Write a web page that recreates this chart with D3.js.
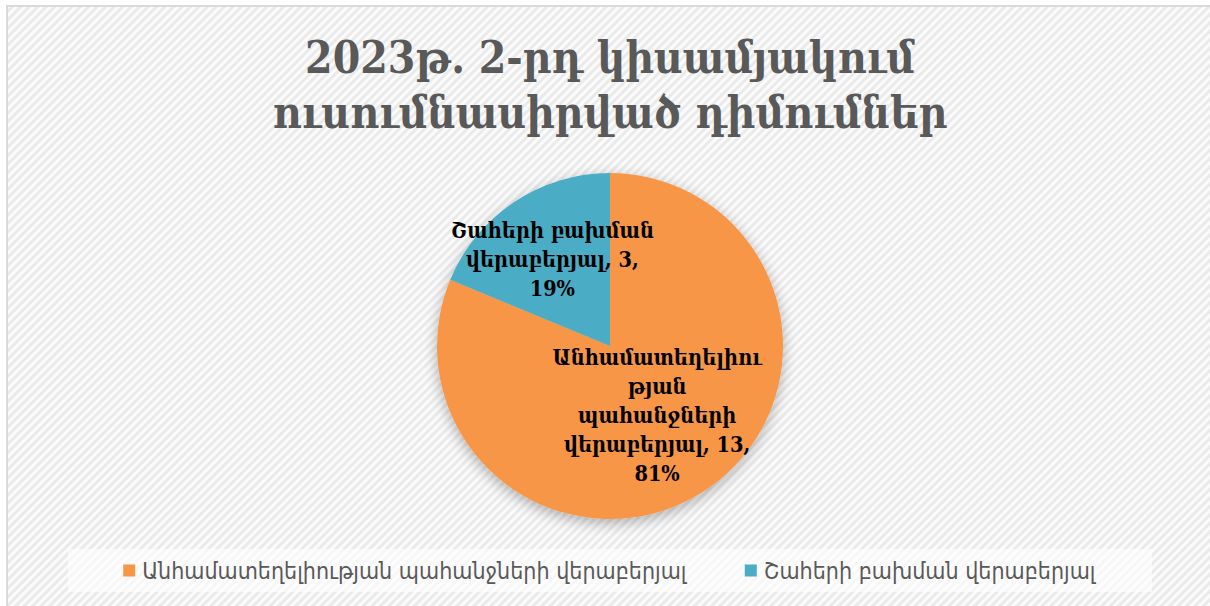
<!DOCTYPE html>
<html>
<head>
<meta charset="utf-8">
<script src="https://cdn.jsdelivr.net/npm/d3@7"></script>
<style>
  html, body { margin: 0; padding: 0; background: #fff; }
  svg { display: block; }
</style>
</head>
<body>
<div id="container"></div>
<script>
const categories = [
  'Անհամատեղելիության պահանջների վերաբերյալ',
  'Շահերի բախման վերաբերյալ'
];
const values = [13, 3];
const percents = ['81%', '19%'];
// how Excel wrapped the data labels
const labelLines = [
  ['Անհամատեղելիու', 'թյան', 'պահանջների', 'վերաբերյալ, 13,', '81%'],
  ['Շահերի բախման', 'վերաբերյալ, 3,', '19%']
];
const titleLines = ['2023թ. 2-րդ կիսամյակում', 'ուսումնասիրված դիմումներ'];
const colors = ['#F79646', '#4BACC6'];

const width = 1210;
const height = 606;

const svg = d3.select('#container').append('svg')
  .attr('width', width)
  .attr('height', height)
  .attr('viewBox', [0, 0, width, height]);

const defs = svg.append('defs');

// diagonal hatch of the chart area
const pattern = defs.append('pattern')
  .attr('id', 'hatch')
  .attr('patternUnits', 'userSpaceOnUse')
  .attr('width', 6)
  .attr('height', 6)
  .attr('patternTransform', 'rotate(-45)');
pattern.append('rect')
  .attr('width', 6).attr('height', 6)
  .attr('fill', '#fbfbfb');
pattern.append('rect')
  .attr('width', 6).attr('height', 3)
  .attr('fill', '#eaeaea');

const shadow = defs.append('filter')
  .attr('id', 'shadow')
  .attr('x', '-20%').attr('y', '-20%')
  .attr('width', '140%').attr('height', '140%');
shadow.append('feGaussianBlur')
  .attr('in', 'SourceAlpha')
  .attr('stdDeviation', 7);
shadow.append('feOffset').attr('dy', 4).attr('result', 'blur');
shadow.append('feComponentTransfer')
  .append('feFuncA').attr('type', 'linear').attr('slope', 0.3);
const merge = shadow.append('feMerge');
merge.append('feMergeNode');
merge.append('feMergeNode').attr('in', 'SourceGraphic');

svg.append('rect')
  .attr('x', 7).attr('y', 6)
  .attr('width', width + 10).attr('height', height + 10)
  .attr('fill', 'url(#hatch)')
  .attr('stroke', '#d9d9d9')
  .attr('stroke-width', 2);

// title
svg.append('text')
  .attr('x', 610)
  .attr('y', 73)
  .attr('text-anchor', 'middle')
  .attr('font-family', '"DejaVu Serif Condensed", "DejaVu Serif", serif')
  .attr('font-weight', 'bold')
  .attr('font-size', 44)
  .attr('fill', '#595959')
  .selectAll('tspan')
  .data(titleLines)
  .join('tspan')
  .attr('x', 610)
  .attr('dy', (d, i) => i ? 55 : 0)
  .text(d => d);

// pie
const cx = 610;
const cy = 346;
const radius = 173;

const data = categories.map((name, i) => ({
  name,
  value: values[i],
  color: colors[i],
  lines: labelLines[i],
  labelPos: i === 0 ? 0.49 : 0.6
}));

const pie = d3.pie().sort(null).value(d => d.value);
const arcs = pie(data);
const arc = d3.arc().innerRadius(0).outerRadius(radius);

const g = svg.append('g').attr('transform', `translate(${cx},${cy})`);

g.append('g')
  .attr('filter', 'url(#shadow)')
  .selectAll('path')
  .data(arcs)
  .join('path')
  .attr('d', arc)
  .attr('fill', d => d.data.color);

const lineH = 29;
const labels = g.selectAll('.label')
  .data(arcs)
  .join('text')
  .attr('class', 'label')
  .attr('text-anchor', 'middle')
  .attr('font-family', '"DejaVu Serif Condensed", "DejaVu Serif", serif')
  .attr('font-weight', 'bold')
  .attr('font-size', 21.5)
  .attr('fill', '#000')
  .attr('transform', d => {
    const r = radius * d.data.labelPos;
    const [x, y] = d3.arc().innerRadius(r).outerRadius(r).centroid(d);
    return `translate(${x},${y})`;
  });

labels.selectAll('tspan')
  .data(d => d.data.lines.map((t, i, a) => ({t, i, n: a.length})))
  .join('tspan')
  .attr('x', 0)
  .attr('y', d => (d.i - (d.n - 1) / 2) * lineH + 7)
  .text(d => d.t);

// legend
const legendBox = {x: 68, y: 549, w: 1084, h: 43};
svg.append('rect')
  .attr('x', legendBox.x).attr('y', legendBox.y)
  .attr('width', legendBox.w).attr('height', legendBox.h)
  .attr('fill', '#ffffff')
  .attr('fill-opacity', 0.6);

const legend = svg.append('g');
const sw = 12;
const items = legend.selectAll('g')
  .data(data)
  .join('g');

items.append('rect')
  .attr('width', sw).attr('height', sw)
  .attr('y', -sw / 2)
  .attr('fill', d => d.color);

items.append('text')
  .attr('x', sw + 7)
  .attr('dy', '0.35em')
  .attr('font-family', '"DejaVu Sans Condensed", "DejaVu Sans", sans-serif')
  .attr('font-size', 23)
  .attr('fill', '#595959')
  .text(d => d.name);

const gap = 57;
const widths = [];
items.each(function() { widths.push(this.getBBox().width); });
const total = d3.sum(widths) + gap * (widths.length - 1);
let lx = legendBox.x + (legendBox.w - total) / 2;
items.attr('transform', (d, i) => {
  const t = `translate(${lx},${legendBox.y + legendBox.h / 2})`;
  lx += widths[i] + gap;
  return t;
});
</script>
</body>
</html>
